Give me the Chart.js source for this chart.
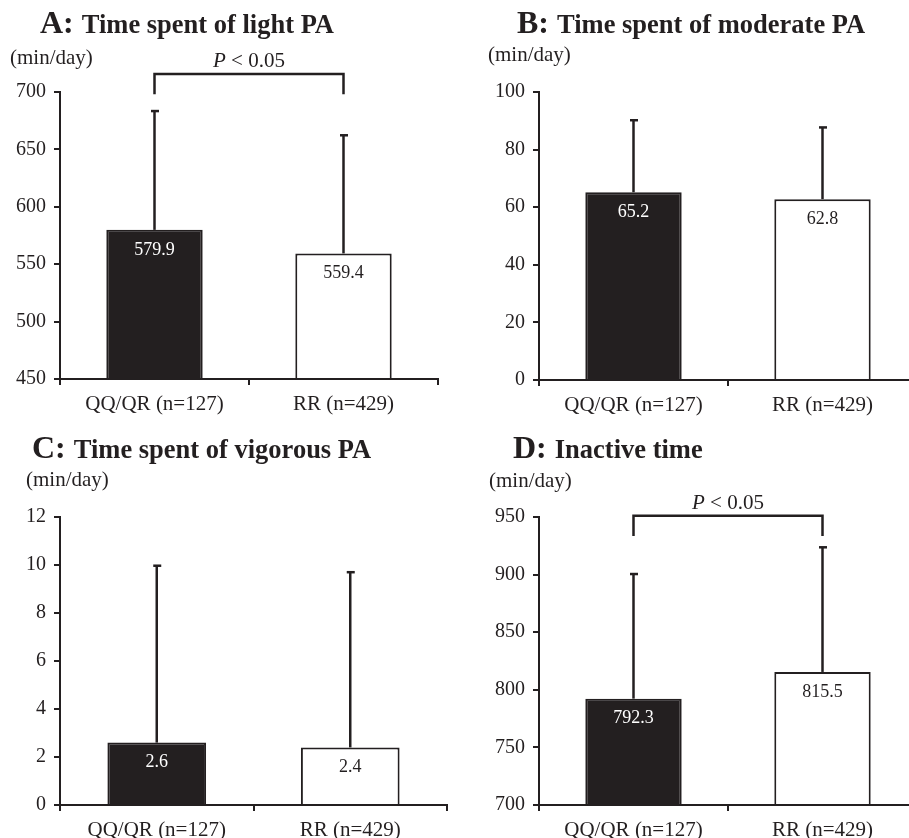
<!DOCTYPE html>
<html><head><meta charset="utf-8">
<script src="https://cdn.jsdelivr.net/npm/chart.js@4/dist/chart.umd.min.js"></script>
<style>
html,body{margin:0;padding:0;background:#fff;overflow:hidden;}
#wrap{position:relative;width:909px;height:838px;overflow:hidden;background:#fff;}
canvas{position:absolute;}
</style></head><body>
<div id="wrap">
<canvas id="cA" width="450" height="420" style="left:0;top:0"></canvas>
<canvas id="cB" width="480" height="420" style="left:450px;top:0"></canvas>
<canvas id="cC" width="450" height="418" style="left:0;top:420px"></canvas>
<canvas id="cD" width="480" height="418" style="left:450px;top:420px"></canvas>
</div>
<script>
// ---- data ----
const categories = ['QQ/QR (n=127)', 'RR (n=429)'];
const lightMean = [579.9, 559.4];
const lightSD = [103.5, 102.9];
const moderateMean = [65.2, 62.8];
const moderateSD = [25.0, 24.9];
const vigorousMean = [2.6, 2.4];
const vigorousSD = [7.37, 7.30];
const inactiveMean = [792.3, 815.5];
const inactiveSD = [108.2, 108.2];
const lightTicks = [450, 500, 550, 600, 650, 700];
const moderateTicks = [0, 20, 40, 60, 80, 100];
const vigorousTicks = [0, 2, 4, 6, 8, 10, 12];
const inactiveTicks = [700, 750, 800, 850, 900, 950];
const lightBracket = [715.7, 698];
const inactiveBracket = [951, 933.5];
const pLabel = ['P', ' < 0.05'];
const unitLabel = '(min/day)';

// ---- styles ----
const INK = '#231f20';
const SERIF = '"Liberation Serif","Times New Roman",Times,serif';
const barFill = [INK, '#ffffff'];
const labelFill = ['#ffffff', INK];

const decor = {
  id: 'decor',
  afterDatasetsDraw(chart, args, o) {
    const ctx = chart.ctx;
    const ys = chart.scales.y;
    const bars = chart.getDatasetMeta(0).data;
    ctx.save();
    bars.forEach((bar, i) => {
      const top = ys.getPixelForValue(o.mean[i] + o.sd[i]);
      ctx.strokeStyle = INK;
      ctx.lineWidth = 2.5;
      ctx.beginPath(); ctx.moveTo(bar.x, bar.y); ctx.lineTo(bar.x, top); ctx.stroke();
      ctx.beginPath(); ctx.moveTo(bar.x - 3.5, top); ctx.lineTo(bar.x + 4.5, top); ctx.stroke();
      ctx.fillStyle = labelFill[i];
      ctx.font = '18px ' + SERIF;
      ctx.textAlign = 'center'; ctx.textBaseline = 'middle';
      ctx.fillText(o.mean[i].toFixed(1), bar.x, bar.y + 20);
    });
    ctx.restore();
  },
  afterDraw(chart, args, o) {
    const ctx = chart.ctx;
    const ys = chart.scales.y;
    ctx.save();
    ctx.fillStyle = INK;
    ctx.textAlign = 'left'; ctx.textBaseline = 'alphabetic';
    ctx.font = 'bold 32px ' + SERIF;
    ctx.fillText(o.letter, o.lx, o.ly);
    const w = ctx.measureText(o.letter).width;
    ctx.font = 'bold 26.5px ' + SERIF;
    ctx.fillText(o.title, o.lx + w + 8, o.ly);
    ctx.font = '21px ' + SERIF;
    ctx.textBaseline = 'middle';
    ctx.fillText(unitLabel, o.ux, o.uy);
    if (o.bracket) {
      const bars = chart.getDatasetMeta(0).data;
      const x1 = bars[0].x, x2 = bars[1].x;
      const yt = ys.getPixelForValue(o.bracket[0]);
      const yb = ys.getPixelForValue(o.bracket[1]);
      ctx.strokeStyle = INK; ctx.lineWidth = 2.5;
      ctx.beginPath();
      ctx.moveTo(x1, yb); ctx.lineTo(x1, yt); ctx.lineTo(x2, yt); ctx.lineTo(x2, yb);
      ctx.stroke();
      ctx.font = 'italic 21px ' + SERIF;
      const wP = ctx.measureText(pLabel[0]).width;
      ctx.font = '21px ' + SERIF;
      const wR = ctx.measureText(pLabel[1]).width;
      const sx = (x1 + x2) / 2 - (wP + wR) / 2;
      const ty = yt - 12;
      ctx.font = 'italic 21px ' + SERIF;
      ctx.fillText(pLabel[0], sx, ty);
      ctx.font = '21px ' + SERIF;
      ctx.fillText(pLabel[1], sx + wP, ty);
    }
    ctx.restore();
  }
};

function makePanel(id, mean, sd, ticks, area, deco) {
  const canvas = document.getElementById(id);
  const W = canvas.width, H = canvas.height;
  new Chart(canvas, {
    type: 'bar',
    data: {
      labels: categories,
      datasets: [{
        data: mean,
        base: ticks[0],
        backgroundColor: barFill,
        borderColor: INK,
        borderWidth: 2,
        borderSkipped: 'start',
        barPercentage: 0.51,
        categoryPercentage: 1
      }]
    },
    options: {
      responsive: false,
      animation: false,
      events: [],
      layout: { padding: { top: area.top, right: W - area.right, bottom: 0, left: 0 } },
      plugins: {
        legend: { display: false },
        tooltip: { enabled: false },
        title: { display: false },
        decor: Object.assign({ mean: mean, sd: sd }, deco)
      },
      scales: {
        x: {
          offset: true,
          grid: { offset: true, drawOnChartArea: false, drawTicks: true, tickLength: 6, color: INK, lineWidth: 2 },
          border: { display: true, color: INK, width: 2 },
          ticks: { color: INK, font: { family: SERIF, size: 21 }, padding: 7, maxRotation: 0, autoSkip: false },
          afterFit(s) { s.height = H - area.bottom; }
        },
        y: {
          min: ticks[0],
          max: ticks[ticks.length - 1],
          afterBuildTicks(s) { s.ticks = ticks.map(v => ({ value: v })); },
          grid: { drawOnChartArea: false, drawTicks: true, tickLength: 6, color: INK, lineWidth: 2 },
          border: { display: true, color: INK, width: 2 },
          ticks: { color: INK, font: { family: SERIF, size: 20 }, padding: 8 },
          afterFit(s) { s.width = area.left; }
        }
      }
    },
    plugins: [decor]
  });
}

makePanel('cA', lightMean, lightSD, lightTicks,
  { left: 60, right: 438, top: 92, bottom: 379 },
  { letter: 'A:', title: 'Time spent of light PA', lx: 40, ly: 33, ux: 10, uy: 58, bracket: lightBracket });
makePanel('cB', moderateMean, moderateSD, moderateTicks,
  { left: 89, right: 467, top: 92, bottom: 380 },
  { letter: 'B:', title: 'Time spent of moderate PA', lx: 67, ly: 33, ux: 38, uy: 55, bracket: null });
makePanel('cC', vigorousMean, vigorousSD, vigorousTicks,
  { left: 60, right: 447, top: 97, bottom: 385 },
  { letter: 'C:', title: 'Time spent of vigorous PA', lx: 32, ly: 38, ux: 26, uy: 60, bracket: null });
makePanel('cD', inactiveMean, inactiveSD, inactiveTicks,
  { left: 89, right: 467, top: 97, bottom: 385 },
  { letter: 'D:', title: 'Inactive time', lx: 63, ly: 38, ux: 39, uy: 61, bracket: inactiveBracket });
</script>
</body></html>
